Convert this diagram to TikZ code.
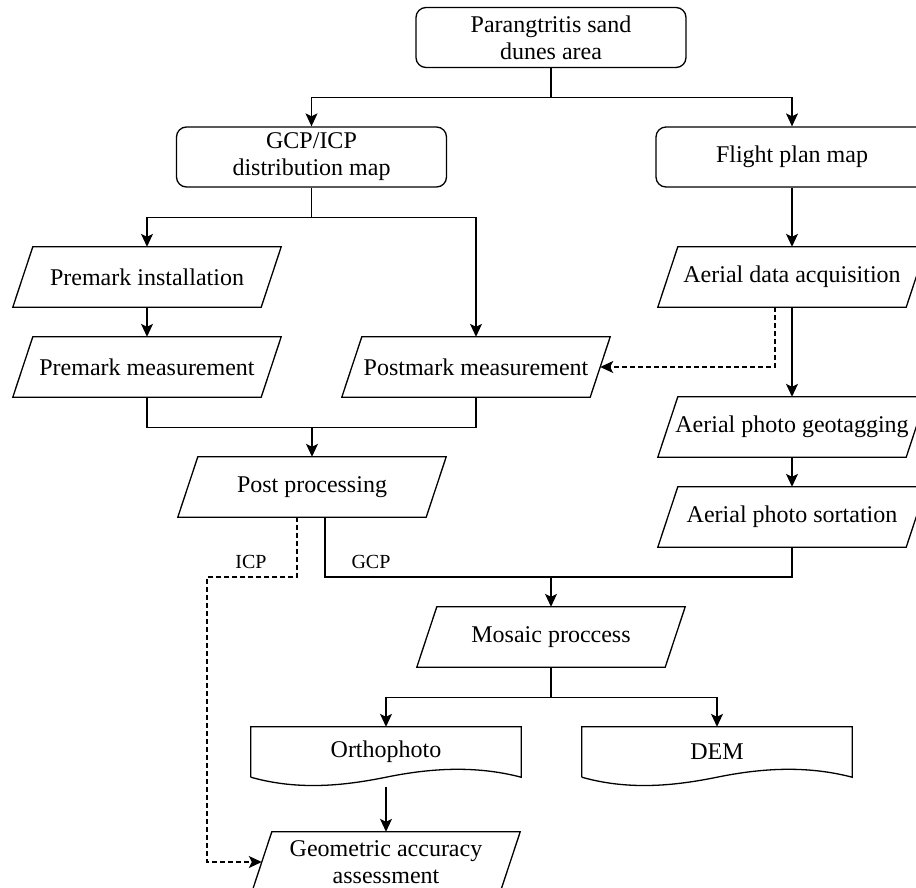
\documentclass[tikz,border=0pt]{standalone}
\usepackage{fontspec}
\setmainfont{Liberation Serif}
\usetikzlibrary{arrows.meta,calc}
\begin{document}
\begin{tikzpicture}[x=1pt,y=-1pt,
  every node/.style={font=\fontsize{24}{27}\selectfont, align=center, inner sep=0pt},
  line/.style={line width=1.3pt},
  arr/.style={line, -{Stealth[length=13pt,width=12pt,inset=3pt]}},
  darr/.style={arr, dash pattern=on 5pt off 3pt},
  rbox/.style={draw, line width=1.3pt, rounded corners=10pt, minimum width=270pt, minimum height=60pt},
  para/.style={minimum width=248pt, minimum height=60pt,
    append after command={\pgfextra{\draw[line width=1.3pt]
      ([xshift=10pt]\tikzlastnode.north west) -- ([xshift=10pt]\tikzlastnode.north east) --
      ([xshift=-10pt]\tikzlastnode.south east) -- ([xshift=-10pt]\tikzlastnode.south west) -- cycle;}}},
  doc/.style={minimum width=270pt, minimum height=50pt,
    append after command={\pgfextra{\draw[line width=1.3pt]
      (\tikzlastnode.south west) -- (\tikzlastnode.north west) -- (\tikzlastnode.north east) -- (\tikzlastnode.south east)
      .. controls ([xshift=-46pt,yshift=12pt]\tikzlastnode.south east) and ([xshift=-91pt,yshift=9pt]\tikzlastnode.south east) .. (\tikzlastnode.south)
      .. controls ([xshift=-44pt,yshift=-9pt]\tikzlastnode.south) and ([xshift=46pt,yshift=-13pt]\tikzlastnode.south west) .. (\tikzlastnode.south west);}}},
  lbl/.style={font=\fontsize{20}{24}\selectfont}
]
\useasboundingbox (0,0) rectangle (916,887);

\node[rbox] (top) at (551,37.5) {Parangtritis sand\\dunes area};
\node[rbox] (gcp) at (311.5,157) {GCP/ICP\\distribution map};
\node[rbox, minimum width=272pt] (flight) at (792,157) {Flight plan map};
\node[para] (pinst) at (147,277) {Premark installation};
\node[para] (pmeas) at (147,367) {Premark measurement};
\node[para] (postm) at (476,367) {Postmark measurement};
\node[para] (postp) at (312,487) {Post processing};
\node[para] (acq) at (792,277) {Aerial data acquisition};
\node[para] (geotag) at (792,427) {Aerial photo geotagging};
\node[para] (sort) at (792,517) {Aerial photo sortation};
\node[para] (mosaic) at (551,637) {Mosaic proccess};
\node[doc] (ortho) at (386,752) {Orthophoto};
\node[doc] (dem) at (717,752) {DEM};
\node[para] (geo) at (386,862) {Geometric accuracy\\assessment};

\node[lbl] (licp) at (251,562) {ICP};
\node[lbl] (lgcp) at (371,562) {GCP};

\coordinate (j2) at (312,427);
\coordinate (j3) at (551,577);
\coordinate (k) at (207,577);

\draw[arr] (top.south) -- ++(0,29.5) -| (gcp.north);
\draw[arr] (top.south) -- ++(0,29.5) -| (flight.north);
\draw[arr] (gcp.south) -- ++(0,30) -| (pinst.north);
\draw[arr] (gcp.south) -- ++(0,30) -| (postm.north);
\draw[arr] (pinst) -- (pmeas);
\draw[line] (pmeas.south) -- ++(0,30) -| (postm.south);
\draw[arr] (j2) -- (postp.north);
\draw[arr] (flight) -- (acq);
\draw[darr] ([xshift=-17pt]acq.south) |- (postm.east);
\draw[arr] (acq) -- (geotag);
\draw[arr] (geotag) -- (sort);
\draw[line] ([xshift=13pt]postp.south) |- (j3) -| (sort.south);
\draw[arr] (j3) -- (mosaic.north);
\draw[darr] ([xshift=-15pt]postp.south) |- (k) |- (geo.west);
\draw[arr] (mosaic.south) -- ++(0,30) -| (ortho.north);
\draw[arr] (mosaic.south) -- ++(0,30) -| (dem.north);
\draw[arr] ([yshift=-10pt]ortho.south) -- (geo.north);
\end{tikzpicture}
\end{document}
